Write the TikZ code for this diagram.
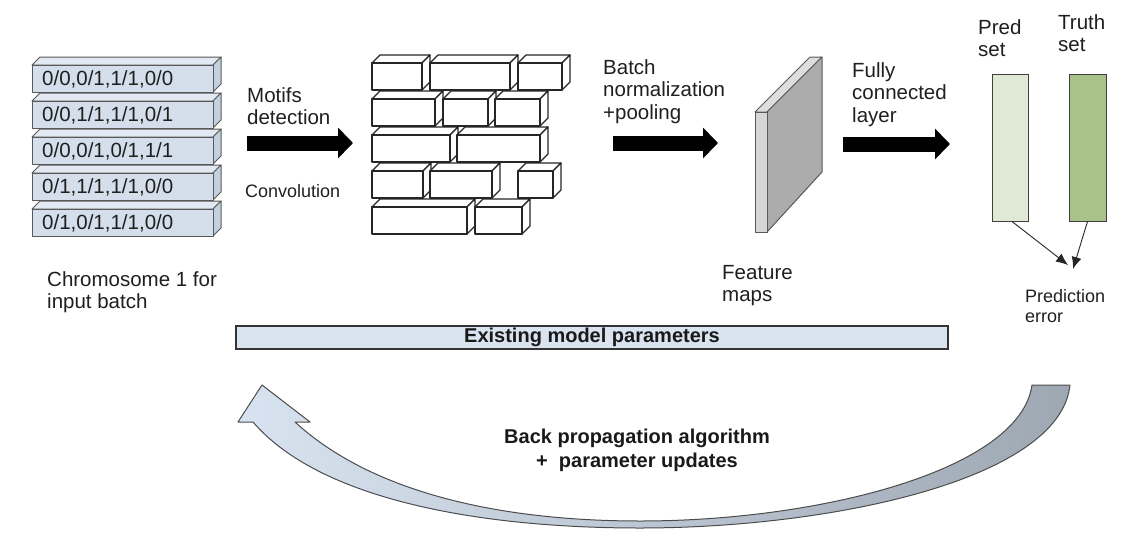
\documentclass[tikz,border=0pt]{standalone}
\usepackage{fontspec}
\setmainfont{Liberation Sans}
\usepackage{xcolor}
\usetikzlibrary{arrows.meta}
\usetikzlibrary{positioning}
\definecolor{barfront}{HTML}{D5DFEC}
\definecolor{bartop}{HTML}{E2E9F3}
\definecolor{barside}{HTML}{C3D0E0}
\definecolor{parfill}{HTML}{DAE4F1}
\definecolor{predfill}{HTML}{E0E9D6}
\definecolor{truthfill}{HTML}{A8C28A}
\definecolor{slabthin}{HTML}{D6D6D6}
\definecolor{slabtop}{HTML}{DEDEDE}
\definecolor{slabside}{HTML}{ACACAC}
\definecolor{backleft}{HTML}{D8E3F1}
\definecolor{backright}{HTML}{9EA8B3}

\begin{document}
\begin{tikzpicture}[x=1pt,y=-1pt]
  \tikzset{>={Latex[length=12pt,width=10pt]}}
  \tikzstyle{plain}=[inner sep=0pt, anchor=north west, align=left, text=black!88, font=\fontsize{20.5}{22.5}\selectfont]
  \tikzstyle{smalltxt}=[plain, font=\fontsize{18}{20.5}\selectfont]
  \tikzstyle{boldtxt}=[inner sep=0pt, align=center, text=black!90, font=\bfseries\fontsize{20}{24}\selectfont]
  \tikzstyle{face}=[draw=black!65, line width=1pt, line join=round]
  \tikzstyle{brick}=[draw=black!85, fill=white, line width=1.3pt, line join=round]
  \tikzstyle{bigarrow}=[line width=15pt, black, -{Triangle[length=15pt,width=30pt]}]

  \useasboundingbox (0,0) rectangle (1141,544);

  % INPUT BATCH
  \foreach \i/\y/\txt in {1/65/{0/0,0/1,1/1,0/0}, 2/101/{0/0,1/1,1/1,0/1},
      3/137/{0/0,0/1,0/1,1/1}, 4/173/{0/1,1/1,1/1,0/0}, 5/209/{0/1,0/1,1/1,0/0}} {
    \filldraw[face, fill=bartop] (32,\y) -- (40,\y-8) -- (221,\y-8) -- (213,\y) -- cycle;
    \filldraw[face, fill=barside] (213,\y) -- (221,\y-8) -- (221,\y+19) -- (213,\y+27) -- cycle;
    \filldraw[face, fill=barfront] (32,\y) rectangle (213,\y+27);
    \node[plain, anchor=west] (in\i) at (42,\y+14) {\txt};
  }
  \node[plain] (chrom) at (47,271) {Chromosome 1 for\\input batch};

  % CONVOLUTION
  \coordinate (conva) at (247,143);
  \coordinate (convb) at (353,143);
  \draw[bigarrow] (conva) -- (convb);
  \node[plain] (motifs) at (247,87) {Motifs\\detection};
  \node[smalltxt] (conv) at (245,184) {Convolution};

  % BRICK WALL
  \foreach \y/\xa/\xb in {63/372/422, 63/430/510, 63/518/562,
      99/372/435, 99/443/488, 99/495/540,
      135/372/450, 135/457/540,
      171/372/423, 171/430/492, 171/518/553,
      207/372/467, 207/475/522} {
    \filldraw[brick] (\xa,\y) -- (\xa+8,\y-8) -- (\xb+8,\y-8) -- (\xb,\y) -- cycle;
    \filldraw[brick] (\xb,\y) -- (\xb+8,\y-8) -- (\xb+8,\y+19) -- (\xb,\y+27) -- cycle;
    \filldraw[brick] (\xa,\y) rectangle (\xb,\y+27);
  }

  % POOLING
  \coordinate (poola) at (613,143);
  \coordinate (poolb) at (718,143);
  \draw[bigarrow] (poola) -- (poolb);
  \node[plain] (batch) at (603,59) {Batch\\normalization\\+pooling};

  % FEATURE MAPS
  \filldraw[face, fill=slabtop] (755,112) -- (810,57) -- (822,57) -- (767,112) -- cycle;
  \filldraw[face, fill=slabside] (767,112) -- (822,57) -- (822,172) -- (767,232) -- cycle;
  \filldraw[face, fill=slabthin] (755,112) rectangle (767,232);
  \node[plain] (feat) at (722,265) {Feature\\maps};

  % FULLY CONNECTED
  \coordinate (fca) at (843,144);
  \coordinate (fcb) at (950,144);
  \draw[bigarrow] (fca) -- (fcb);
  \node[plain] (fully) at (852,62) {Fully\\connected\\layer};

  % PREDICTION VS TRUTH
  \node[draw=black!75, fill=predfill, line width=1pt, inner sep=0pt,
    minimum width=36pt, minimum height=147pt] (pred) at (1010,147.5) {};
  \node[draw=black!75, fill=truthfill, line width=1pt, inner sep=0pt,
    minimum width=37pt, minimum height=147pt] (truth) at (1087.5,147.5) {};
  \node[plain] (predlbl) at (978,19) {Pred\\set};
  \node[plain] (truthlbl) at (1058,14) {Truth\\set};
  \coordinate (err) at (1070,266);
  \draw[->, line width=0.9pt, black!85] ([xshift=2pt]pred.south) -- ([xshift=-2pt,yshift=1pt]err);
  \draw[->, line width=0.9pt, black!85] (truth.south) -- ([xshift=3pt,yshift=-3pt]err);
  \node[smalltxt] (prederr) at (1025,289) {Prediction\\error};

  % PARAMETERS
  \node[draw=black!80, fill=parfill, line width=1.2pt, inner sep=0pt,
    minimum width=712pt, minimum height=23pt, boldtxt] (params) at (592,337.5) {Existing model parameters};

  % BACK PROPAGATION
  \shadedraw[left color=backleft, right color=backright, draw=black!70, line width=1pt, line join=round]
    (238,422) -- (262,385) -- (310,422) -- (295,422)
    .. controls (380,500) and (520,521) .. (640,521)
    .. controls (820,521) and (1020,470) .. (1032,385)
    -- (1070,385)
    .. controls (1060,480) and (830,528) .. (640,528)
    .. controls (480,528) and (320,500) .. (253,422) -- cycle;
  \node[boldtxt] (backprop) at (637,450) {Back propagation algorithm\\+\ \ parameter updates};
\end{tikzpicture}
\end{document}
